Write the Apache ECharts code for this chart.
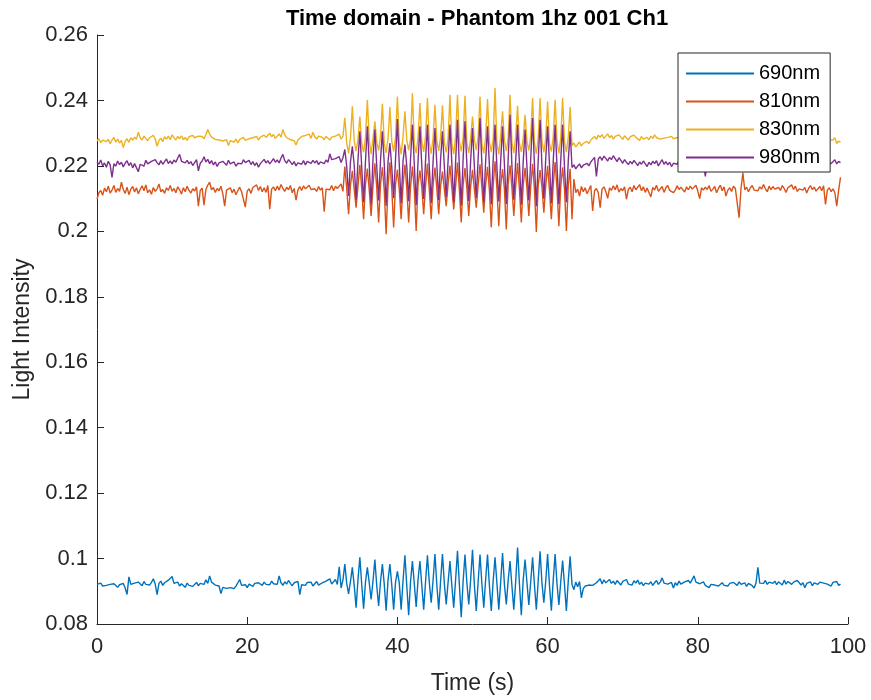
<!DOCTYPE html>
<html>
<head>
<meta charset="utf-8">
<script src="https://cdn.jsdelivr.net/npm/echarts@6/dist/echarts.min.js"></script>
<style>
html,body{margin:0;padding:0;background:#fff;}
#chart{width:871px;height:700px;}
</style>
</head>
<body>
<div id="chart"></div>
<script>
// sampling interval of the recording (s); sample i is at time i*dt
const dt = 0.25;
const seriesNames = ['690nm', '810nm', '830nm', '980nm'];
const xTicks = { min: 0, max: 100, interval: 20 };
const yTicks = { min: 0.08, max: 0.26, interval: 0.02 };

const s690 = [
0.0921,0.0919,0.0925,0.0916, 0.0922,0.0918,0.0914,0.0921, 0.0917,0.0923,0.0919,0.0912, 0.0920,0.0916,0.0924,0.0910,
0.0890,0.0944,0.0921,0.0915, 0.0925,0.0919,0.0928,0.0922, 0.0917,0.0930,0.0921,0.0926, 0.0919,0.0927,0.0938,0.0922,
0.0890,0.0924,0.0931,0.0918, 0.0926,0.0921,0.0934,0.0929, 0.0945,0.0924,0.0919,0.0928, 0.0916,0.0923,0.0920,0.0912,
0.0925,0.0918,0.0922,0.0915, 0.0920,0.0927,0.0917,0.0924, 0.0929,0.0921,0.0935,0.0924, 0.0947,0.0928,0.0932,0.0919,
0.0925,0.0916,0.0893,0.0912, 0.0918,0.0909,0.0915,0.0911, 0.0914,0.0908,0.0916,0.0912, 0.0936,0.0918,0.0913,0.0920,
0.0911,0.0922,0.0917,0.0915, 0.0924,0.0919,0.0926,0.0920, 0.0918,0.0928,0.0921,0.0925, 0.0920,0.0931,0.0923,0.0927,
0.0921,0.0947,0.0926,0.0918, 0.0929,0.0922,0.0933,0.0924, 0.0917,0.0926,0.0921,0.0930, 0.0890,0.0920,0.0925,0.0918,
0.0927,0.0921,0.0928,0.0916, 0.0922,0.0930,0.0919,0.0924, 0.0926,0.0920,0.0931,0.0925, 0.0938,0.0922,0.0929,0.0936,
0.0921,0.0975,0.0910,0.0935,
0.0983,0.0924,0.0892,0.0930, 0.0973,0.0918,0.0850,0.0935, 0.1004,0.0921,0.0847,0.0928, 0.0973,0.0926,0.0875,0.0931,
0.0997,0.0917,0.0855,0.0929, 0.0983,0.0922,0.0841,0.0934, 0.0983,0.0919,0.0844,0.0927, 0.0961,0.0925,0.0844,0.0932,
0.1010,0.0916,0.0827,0.0930, 0.0992,0.0923,0.0852,0.0936, 0.0992,0.0918,0.0844,0.0929, 0.1010,0.0927,0.0865,0.0933,
0.1014,0.0920,0.0844,0.0931, 0.1014,0.0924,0.0860,0.0928, 0.0992,0.0917,0.0850,0.0935, 0.1024,0.0921,0.0821,0.0930,
0.1012,0.0926,0.0860,0.0934, 0.1027,0.0919,0.0840,0.0929, 0.1012,0.0923,0.0850,0.0936, 0.1012,0.0918,0.0840,0.0931,
0.1004,0.0925,0.0844,0.0928, 0.1017,0.0921,0.0860,0.0933, 0.0992,0.0916,0.0844,0.0930, 0.1034,0.0922,0.0827,0.0935,
0.0997,0.0927,0.0858,0.0929, 0.1004,0.0919,0.0844,0.0932, 0.1022,0.0924,0.0865,0.0930, 0.1014,0.0918,0.0841,0.0934,
0.1014,0.0923,0.0858,0.0929, 0.0994,0.0920,0.0840,0.0931,
0.1007,
0.0921,0.0905,0.0928,
0.0914,0.0930,0.0880,0.0908, 0.0916,0.0911,0.0919,0.0913, 0.0918,0.0915,0.0926,0.0921, 0.0938,0.0922,0.0935,0.0926,
0.0929,0.0936,0.0924,0.0931, 0.0921,0.0933,0.0927,0.0919, 0.0930,0.0924,0.0936,0.0922, 0.0927,0.0919,0.0932,0.0925,
0.0934,0.0921,0.0928,0.0917, 0.0925,0.0931,0.0922,0.0929, 0.0918,0.0926,0.0933,0.0921, 0.0928,0.0941,0.0925,0.0930,
0.0922,0.0919,0.0927,0.0910, 0.0926,0.0918,0.0931,0.0922, 0.0920,0.0929,0.0924,0.0933, 0.0925,0.0921,0.0947,0.0928,
0.0931,0.0923,0.0920,0.0929, 0.0918,0.0924,0.0911,0.0921, 0.0927,0.0919,0.0925,0.0916, 0.0921,0.0926,0.0918,0.0923,
0.0916,0.0924,0.0920,0.0927, 0.0923,0.0918,0.0929,0.0921, 0.0919,0.0926,0.0915,0.0924, 0.0922,0.0917,0.0910,0.0925,
0.0973,0.0925,0.0929,0.0924, 0.0933,0.0921,0.0928,0.0926, 0.0924,0.0931,0.0920,0.0929, 0.0927,0.0919,0.0934,0.0922,
0.0930,0.0925,0.0921,0.0928, 0.0922,0.0933,0.0926,0.0919, 0.0926,0.0911,0.0924,0.0920, 0.0929,0.0917,0.0926,0.0931,
0.0921,0.0928,0.0934,0.0925, 0.0931,0.0922,0.0928,0.0916, 0.0927,0.0921,0.0930,0.0918,
0.0922
];

const s810 = [
0.2098,0.2118,0.2125,0.2110, 0.2132,0.2121,0.2138,0.2117, 0.2126,0.2140,0.2119,0.2131, 0.2122,0.2150,0.2128,0.2116,
0.2135,0.2112,0.2129,0.2137, 0.2120,0.2133,0.2115,0.2128, 0.2139,0.2124,0.2142,0.2118, 0.2127,0.2113,0.2134,0.2122,
0.2130,0.2145,0.2121,0.2128, 0.2116,0.2133,0.2125,0.2140, 0.2122,0.2131,0.2118,0.2136, 0.2127,0.2114,0.2133,0.2121,
0.2138,0.2125,0.2117,0.2130, 0.2123,0.2136,0.2077,0.2125, 0.2132,0.2080,0.2128,0.2141, 0.2150,0.2127,0.2134,0.2119,
0.2131,0.2124,0.2138,0.2115, 0.2077,0.2126,0.2120,0.2133, 0.2118,0.2129,0.2112,0.2124, 0.2135,0.2121,0.2127,0.2074,
0.2123,0.2130,0.2116,0.2134, 0.2128,0.2142,0.2125,0.2137, 0.2121,0.2133,0.2119,0.2140, 0.2068,0.2129,0.2136,0.2124,
0.2138,0.2126,0.2143,0.2131, 0.2122,0.2135,0.2127,0.2140, 0.2118,0.2131,0.2095,0.2126, 0.2137,0.2125,0.2139,0.2130,
0.2124,0.2141,0.2128,0.2134, 0.2130,0.2122,0.2137,0.2126, 0.2133,0.2060,0.2129,0.2135, 0.2127,0.2140,0.2124,0.2138,
0.2131,0.2126,0.2145,0.2122,
0.2198,0.2130,0.2052,0.2141, 0.2185,0.2128,0.2072,0.2138, 0.2203,0.2131,0.2037,0.2144, 0.2192,0.2126,0.2047,0.2139,
0.2208,0.2133,0.2027,0.2142, 0.2196,0.2125,0.1991,0.2137, 0.2211,0.2130,0.2012,0.2143, 0.2189,0.2127,0.2037,0.2140,
0.2204,0.2132,0.2027,0.2136, 0.2199,0.2128,0.2001,0.2145, 0.2186,0.2134,0.2052,0.2139, 0.2207,0.2126,0.2037,0.2141,
0.2195,0.2131,0.2052,0.2137, 0.2183,0.2129,0.2077,0.2144, 0.2201,0.2133,0.2067,0.2138, 0.2210,0.2127,0.2027,0.2142,
0.2193,0.2132,0.2047,0.2136, 0.2188,0.2128,0.2072,0.2140, 0.2205,0.2135,0.2057,0.2143, 0.2197,0.2126,0.2012,0.2139,
0.2214,0.2131,0.2016,0.2137, 0.2190,0.2129,0.2006,0.2144, 0.2202,0.2133,0.2047,0.2138, 0.2209,0.2127,0.2027,0.2141,
0.2194,0.2132,0.2047,0.2136, 0.2206,0.2128,0.1998,0.2143, 0.2187,0.2134,0.2057,0.2139, 0.2200,0.2126,0.2037,0.2142,
0.2212,0.2131,0.2016,0.2137, 0.2196,0.2129,0.2001,0.2140,
0.2191,
0.2037,0.2160,0.2118,
0.2129,0.2108,0.2137,0.2121, 0.2133,0.2115,0.2127,0.2140, 0.2062,0.2124,0.2131,0.2118, 0.2072,0.2129,0.2136,0.2122,
0.2101,0.2133,0.2125,0.2139, 0.2127,0.2142,0.2120,0.2131, 0.2124,0.2136,0.2098,0.2128, 0.2135,0.2121,0.2140,0.2127,
0.2130,0.2143,0.2124,0.2136, 0.2119,0.2132,0.2138,0.2105, 0.2134,0.2126,0.2141,0.2122, 0.2128,0.2137,0.2119,0.2133,
0.2140,0.2125,0.2131,0.2118, 0.2126,0.2139,0.2128,0.2135, 0.2132,0.2120,0.2136,0.2127, 0.2138,0.2129,0.2124,0.2141,
0.2123,0.2100,0.2133,0.2126, 0.2135,0.2128,0.2140,0.2122, 0.2129,0.2137,0.2118,0.2131, 0.2141,0.2124,0.2136,0.2108,
0.2126,0.2133,0.2122,0.2138, 0.2131,0.2125,0.2042,0.2130, 0.2179,0.2127,0.2135,0.2121, 0.2133,0.2140,0.2126,0.2131,
0.2124,0.2136,0.2129,0.2143, 0.2130,0.2121,0.2138,0.2127, 0.2137,0.2129,0.2123,0.2134, 0.2125,0.2140,0.2131,0.2119,
0.2133,0.2127,0.2142,0.2128, 0.2138,0.2122,0.2130,0.2136, 0.2126,0.2134,0.2117,0.2131, 0.2140,0.2128,0.2135,0.2123,
0.2129,0.2137,0.2124,0.2139, 0.2082,0.2126,0.2133,0.2121, 0.2130,0.2118,0.2077,0.2125,
0.2165
];

const s830 = [
0.2276,0.2283,0.2271,0.2279, 0.2285,0.2274,0.2281,0.2268, 0.2279,0.2287,0.2273,0.2282, 0.2270,0.2278,0.2256,0.2275,
0.2283,0.2272,0.2286,0.2279, 0.2288,0.2281,0.2303,0.2286, 0.2279,0.2291,0.2284,0.2277, 0.2286,0.2280,0.2293,0.2283,
0.2260,0.2278,0.2285,0.2274, 0.2289,0.2282,0.2291,0.2280, 0.2295,0.2286,0.2279,0.2290, 0.2283,0.2292,0.2280,0.2287,
0.2278,0.2289,0.2284,0.2293, 0.2286,0.2280,0.2291,0.2285, 0.2290,0.2283,0.2296,0.2311, 0.2297,0.2288,0.2292,0.2281,
0.2286,0.2279,0.2284,0.2276, 0.2272,0.2280,0.2262,0.2277, 0.2279,0.2273,0.2282,0.2270, 0.2281,0.2275,0.2287,0.2278,
0.2274,0.2283,0.2277,0.2286, 0.2282,0.2290,0.2279,0.2288, 0.2285,0.2294,0.2287,0.2292, 0.2300,0.2289,0.2296,0.2284,
0.2291,0.2298,0.2288,0.2311, 0.2295,0.2286,0.2290,0.2280, 0.2284,0.2277,0.2264,0.2279, 0.2282,0.2290,0.2285,0.2293,
0.2288,0.2297,0.2284,0.2303, 0.2289,0.2282,0.2291,0.2285, 0.2287,0.2280,0.2290,0.2284, 0.2279,0.2288,0.2283,0.2291,
0.2286,0.2297,0.2282,0.2290,
0.2347,0.2270,0.2238,0.2286, 0.2382,0.2276,0.2245,0.2281, 0.2351,0.2269,0.2241,0.2288, 0.2402,0.2278,0.2236,0.2284,
0.2336,0.2272,0.2247,0.2290, 0.2390,0.2268,0.2240,0.2283, 0.2380,0.2275,0.2244,0.2287, 0.2412,0.2271,0.2235,0.2289,
0.2367,0.2279,0.2248,0.2282, 0.2422,0.2266,0.2239,0.2286, 0.2392,0.2274,0.2243,0.2291, 0.2407,0.2270,0.2237,0.2285,
0.2387,0.2277,0.2246,0.2288, 0.2385,0.2273,0.2241,0.2283, 0.2417,0.2268,0.2236,0.2290, 0.2417,0.2276,0.2244,0.2286,
0.2414,0.2271,0.2240,0.2284, 0.2351,0.2279,0.2248,0.2289, 0.2412,0.2267,0.2238,0.2287, 0.2404,0.2274,0.2242,0.2282,
0.2438,0.2270,0.2235,0.2291, 0.2367,0.2278,0.2245,0.2285, 0.2417,0.2272,0.2239,0.2288, 0.2384,0.2269,0.2243,0.2284,
0.2356,0.2276,0.2247,0.2290, 0.2407,0.2271,0.2237,0.2286, 0.2407,0.2275,0.2241,0.2283, 0.2397,0.2268,0.2244,0.2289,
0.2402,0.2277,0.2238,0.2285, 0.2407,0.2273,0.2242,0.2287,
0.2380,
0.2262,0.2270,0.2258,
0.2266,0.2273,0.2261,0.2269, 0.2264,0.2275,0.2268,0.2279, 0.2283,0.2290,0.2281,0.2294, 0.2287,0.2296,0.2284,0.2291,
0.2298,0.2286,0.2293,0.2282, 0.2290,0.2285,0.2295,0.2288, 0.2281,0.2292,0.2286,0.2279, 0.2289,0.2283,0.2294,0.2287,
0.2285,0.2278,0.2290,0.2282, 0.2276,0.2287,0.2280,0.2291, 0.2284,0.2295,0.2286,0.2289, 0.2282,0.2276,0.2285,0.2279,
0.2287,0.2281,0.2290,0.2283, 0.2278,0.2286,0.2280,0.2288, 0.2283,0.2277,0.2289,0.2281, 0.2286,0.2280,0.2284,0.2291,
0.2282,0.2288,0.2279,0.2285, 0.2290,0.2283,0.2287,0.2278, 0.2284,0.2292,0.2281,0.2286, 0.2279,0.2285,0.2290,0.2283,
0.2288,0.2281,0.2286,0.2277, 0.2283,0.2289,0.2280,0.2287, 0.2277,0.2284,0.2291,0.2282, 0.2286,0.2279,0.2283,0.2290,
0.2281,0.2287,0.2278,0.2284, 0.2289,0.2282,0.2286,0.2280, 0.2284,0.2291,0.2283,0.2288, 0.2278,0.2285,0.2280,0.2287,
0.2286,0.2281,0.2289,0.2283, 0.2280,0.2288,0.2282,0.2285, 0.2287,0.2279,0.2284,0.2291, 0.2282,0.2286,0.2278,0.2284,
0.2288,0.2281,0.2286,0.2279, 0.2283,0.2287,0.2280,0.2285, 0.2279,0.2286,0.2268,0.2276,
0.2272
];

const s980 = [
0.2212,0.2205,0.2218,0.2200, 0.2209,0.2196,0.2214,0.2203, 0.2165,0.2207,0.2199,0.2215, 0.2204,0.2211,0.2197,0.2208,
0.2216,0.2201,0.2210,0.2194, 0.2207,0.2213,0.2182,0.2205, 0.2211,0.2199,0.2217,0.2206, 0.2202,0.2214,0.2208,0.2219,
0.2210,0.2203,0.2216,0.2205, 0.2213,0.2221,0.2207,0.2215, 0.2206,0.2218,0.2211,0.2224, 0.2235,0.2214,0.2220,0.2209,
0.2217,0.2206,0.2213,0.2201, 0.2210,0.2219,0.2185,0.2208, 0.2215,0.2228,0.2212,0.2220, 0.2207,0.2216,0.2203,0.2212,
0.2198,0.2209,0.2204,0.2214, 0.2211,0.2202,0.2217,0.2206, 0.2203,0.2212,0.2199,0.2208, 0.2214,0.2206,0.2219,0.2210,
0.2208,0.2217,0.2204,0.2213, 0.2201,0.2210,0.2196,0.2207, 0.2212,0.2220,0.2209,0.2216, 0.2206,0.2214,0.2222,0.2211,
0.2218,0.2209,0.2224,0.2235, 0.2216,0.2208,0.2219,0.2212, 0.2204,0.2213,0.2200,0.2209, 0.2211,0.2205,0.2216,0.2203,
0.2214,0.2220,0.2208,0.2217, 0.2209,0.2216,0.2204,0.2212, 0.2215,0.2207,0.2218,0.2211, 0.2237,0.2219,0.2213,0.2222,
0.2216,0.2228,0.2210,0.2225,
0.2250,0.2198,0.2108,0.2212, 0.2260,0.2202,0.2096,0.2218, 0.2306,0.2195,0.2089,0.2214, 0.2321,0.2204,0.2082,0.2220,
0.2311,0.2199,0.2094,0.2216, 0.2306,0.2207,0.2078,0.2212, 0.2270,0.2196,0.2101,0.2219, 0.2343,0.2203,0.2085,0.2214,
0.2265,0.2198,0.2092,0.2221, 0.2326,0.2206,0.2080,0.2215, 0.2321,0.2200,0.2099,0.2218, 0.2326,0.2195,0.2087,0.2213,
0.2316,0.2204,0.2095,0.2220, 0.2306,0.2199,0.2104,0.2216, 0.2326,0.2207,0.2090,0.2212, 0.2341,0.2197,0.2079,0.2219,
0.2336,0.2203,0.2093,0.2215, 0.2316,0.2198,0.2102,0.2221, 0.2346,0.2205,0.2088,0.2214, 0.2321,0.2200,0.2083,0.2217,
0.2326,0.2196,0.2091,0.2213, 0.2321,0.2204,0.2084,0.2220, 0.2356,0.2199,0.2097,0.2216, 0.2326,0.2206,0.2081,0.2212,
0.2311,0.2197,0.2094,0.2218, 0.2346,0.2203,0.2077,0.2215, 0.2341,0.2198,0.2100,0.2221, 0.2321,0.2205,0.2086,0.2214,
0.2326,0.2200,0.2083,0.2217, 0.2326,0.2196,0.2089,0.2213,
0.2306,
0.2195,0.2203,0.2191,
0.2199,0.2206,0.2194,0.2202, 0.2197,0.2208,0.2200,0.2212, 0.2219,0.2226,0.2168,0.2221, 0.2228,0.2217,0.2230,0.2223,
0.2215,0.2226,0.2219,0.2231, 0.2222,0.2213,0.2225,0.2217, 0.2208,0.2219,0.2211,0.2204, 0.2214,0.2206,0.2217,0.2209,
0.2201,0.2212,0.2205,0.2215, 0.2209,0.2198,0.2211,0.2203, 0.2214,0.2207,0.2216,0.2200, 0.2210,0.2219,0.2205,0.2213,
0.2203,0.2211,0.2198,0.2208, 0.2212,0.2205,0.2216,0.2209, 0.2204,0.2213,0.2207,0.2199, 0.2211,0.2203,0.2214,0.2206,
0.2208,0.2215,0.2201,0.2210, 0.2168,0.2206,0.2213,0.2204, 0.2210,0.2202,0.2215,0.2207, 0.2199,0.2211,0.2204,0.2213,
0.2206,0.2214,0.2200,0.2209, 0.2213,0.2205,0.2217,0.2208, 0.2202,0.2210,0.2198,0.2212, 0.2209,0.2201,0.2214,0.2206,
0.2215,0.2207,0.2211,0.2203, 0.2204,0.2213,0.2208,0.2216, 0.2210,0.2202,0.2212,0.2205, 0.2207,0.2215,0.2203,0.2211,
0.2200,0.2209,0.2214,0.2206, 0.2212,0.2204,0.2210,0.2217, 0.2205,0.2213,0.2201,0.2208, 0.2214,0.2206,0.2211,0.2203,
0.2209,0.2217,0.2205,0.2212, 0.2203,0.2210,0.2216,0.2207, 0.2211,0.2219,0.2206,0.2214,
0.2210
];

const colors = ['#0072BD', '#D95319', '#EDB120', '#7E2F8E'];
const allSeries = [s690, s810, s830, s980];
const axisColor = '#262626';
const font = 'Liberation Sans, Arial, Helvetica, sans-serif';

const chart = echarts.init(document.getElementById('chart'), null, { renderer: 'canvas' });
chart.setOption({
  backgroundColor: '#ffffff',
  animation: false,
  title: {
    text: 'Time domain - Phantom 1hz 001 Ch1',
    left: 472, top: 3, textAlign: 'center',
    textStyle: { fontFamily: font, fontSize: 22, fontWeight: 'bold', color: '#000' }
  },
  grid: { left: 97, right: 23, top: 35, bottom: 75, containLabel: false },
  legend: {
    data: seriesNames,
    orient: 'vertical',
    left: 678, top: 53,
    backgroundColor: '#ffffff',
    borderColor: axisColor, borderWidth: 1, borderRadius: 0,
    padding: [10, 10, 4, 8],
    icon: 'rect',
    itemWidth: 68, itemHeight: 2, itemGap: 7, itemTextGap: 6,
    textStyle: { fontFamily: font, fontSize: 20, color: '#000', lineHeight: 21 }
  },
  xAxis: {
    type: 'value', min: xTicks.min, max: xTicks.max, interval: xTicks.interval,
    name: 'Time (s)', nameLocation: 'middle', nameGap: 48,
    nameTextStyle: { fontFamily: font, fontSize: 23, color: axisColor },
    axisLine: { show: true, onZero: false, lineStyle: { color: axisColor, width: 1 } },
    axisTick: { show: true, inside: true, length: 7, lineStyle: { color: axisColor } },
    axisLabel: { fontFamily: font, fontSize: 22, color: axisColor, margin: 12 },
    splitLine: { show: false }
  },
  yAxis: {
    type: 'value', min: yTicks.min, max: yTicks.max, interval: yTicks.interval,
    name: 'Light Intensity', nameLocation: 'middle', nameGap: 61,
    nameTextStyle: { fontFamily: font, fontSize: 23, color: axisColor },
    axisLine: { show: true, onZero: false, lineStyle: { color: axisColor, width: 1 } },
    axisTick: { show: true, inside: true, length: 7, lineStyle: { color: axisColor } },
    axisLabel: { fontFamily: font, fontSize: 22, color: axisColor, margin: 9 },
    splitLine: { show: false }
  },
  series: allSeries.map((vals, k) => ({
    name: seriesNames[k],
    type: 'line',
    data: vals.map((v, i) => [i * dt, v]),
    symbol: 'none', showSymbol: false,
    lineStyle: { width: 1.4, color: colors[k] },
    itemStyle: { color: colors[k] },
    emphasis: { disabled: true },
    silent: true
  }))
});
</script>
</body>
</html>
